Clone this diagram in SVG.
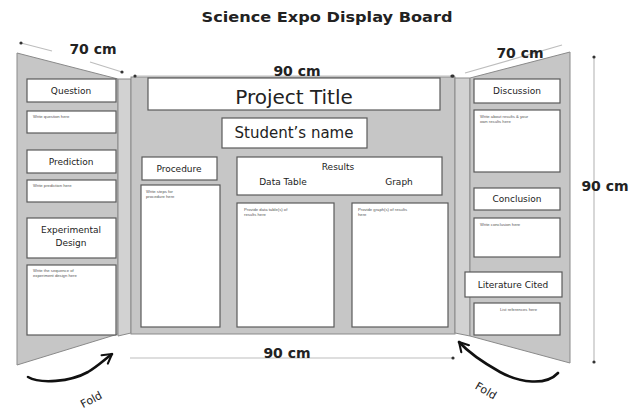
<svg xmlns="http://www.w3.org/2000/svg" width="643" height="412" viewBox="0 0 643 412">
<defs>
<style>
.panel{fill:#c6c6c6;stroke:#8a8a8a;stroke-width:1}
.fold{fill:#d2d2d2;stroke:#8a8a8a;stroke-width:1}
.box{fill:#ffffff;stroke:#5a5a5a;stroke-width:1.2}
.lbl{font-family:"DejaVu Sans","Liberation Sans",sans-serif;font-size:9px;fill:#222;text-anchor:middle}
.small{font-family:"Liberation Sans",Arial,sans-serif;font-size:4.2px;fill:#555}
.dim{font-family:"DejaVu Sans","Liberation Sans",sans-serif;font-weight:bold;font-size:14px;fill:#222;text-anchor:middle}
.dl{stroke:#bdbdbd;stroke-width:1.2;fill:none}
.dot{fill:#333}
.arr{stroke:#111;stroke-width:2.6;fill:none;stroke-linecap:round;stroke-linejoin:round}
.foldt{font-family:"DejaVu Sans","Liberation Sans",sans-serif;font-size:11px;fill:#222;text-anchor:middle}
</style>
<marker id="head" viewBox="0 0 10 10" refX="8" refY="5" markerWidth="5" markerHeight="5" orient="auto" markerUnits="strokeWidth">
<path d="M1,1 L8,5 L1,9" fill="none" stroke="#111" stroke-width="1.6" stroke-linecap="round" stroke-linejoin="round"/>
</marker>
</defs>
<rect width="643" height="412" fill="#ffffff"/>
<text x="327" y="22" font-family="DejaVu Sans,Liberation Sans,sans-serif" font-weight="bold" font-size="14.5" fill="#222" text-anchor="middle" textLength="251" lengthAdjust="spacingAndGlyphs">Science Expo Display Board</text>

<g id="left-panel">
<polygon class="panel" points="17,53 118,79 118,334 17,365"/>
<polygon class="fold" points="118,79 131,79 131,333 118,336"/>
</g>
<g id="center-panel">
<rect class="panel" x="131" y="77" width="324" height="257"/>
</g>
<g id="right-panel">
<polygon class="fold" points="455,78 470,78 470,336 455,333"/>
<polygon class="panel" points="470,78 570,52 570,363 470,336"/>
</g>

<g id="question"><rect class="box" x="27" y="79" width="89" height="23"/><text class="lbl" x="71" y="94">Question</text></g>
<g id="question-text"><rect class="box" x="27" y="111" width="89" height="22"/><text class="small" x="33" y="118">Write question here</text></g>
<g id="prediction"><rect class="box" x="27" y="150" width="89" height="23"/><text class="lbl" x="71" y="165">Prediction</text></g>
<g id="prediction-text"><rect class="box" x="27" y="180" width="89" height="22"/><text class="small" x="33" y="187">Write prediction here</text></g>
<g id="experimental-design"><rect class="box" x="27" y="218" width="89" height="40"/><text class="lbl" x="71" y="233">Experimental</text><text class="lbl" x="71" y="246">Design</text></g>
<g id="experimental-design-text"><rect class="box" x="27" y="265" width="89" height="70"/><text class="small" x="33" y="272">Write the sequence of</text><text class="small" x="33" y="277">experiment design here</text></g>

<g id="project-title"><rect class="box" x="148" y="78" width="292" height="32"/><text x="294" y="104" font-family="DejaVu Sans,Liberation Sans,sans-serif" font-size="20" fill="#222" text-anchor="middle">Project Title</text></g>
<g id="students-name"><rect class="box" x="222" y="118" width="145" height="30"/><text x="294" y="138" font-family="DejaVu Sans,Liberation Sans,sans-serif" font-size="15" fill="#222" text-anchor="middle">Student’s name</text></g>
<g id="procedure"><rect class="box" x="142" y="157" width="75" height="23"/><text class="lbl" x="179" y="172">Procedure</text></g>
<g id="procedure-text"><rect class="box" x="141" y="185" width="79" height="142"/><text class="small" x="146" y="193">Write steps for</text><text class="small" x="146" y="198">procedure here</text></g>
<g id="results"><rect class="box" x="237" y="157" width="205" height="38"/><text class="lbl" x="338" y="170">Results</text><text class="lbl" x="283" y="185">Data Table</text><text class="lbl" x="399" y="185">Graph</text></g>
<g id="data-table"><rect class="box" x="237" y="203" width="97" height="124"/><text class="small" x="244" y="211">Provide data table(s) of</text><text class="small" x="244" y="216">results here</text></g>
<g id="graph"><rect class="box" x="352" y="203" width="96" height="124"/><text class="small" x="358" y="211">Provide graph(s) of results</text><text class="small" x="358" y="216">here</text></g>

<g id="discussion"><rect class="box" x="474" y="79" width="86" height="24"/><text class="lbl" x="517" y="94">Discussion</text></g>
<g id="discussion-text"><rect class="box" x="474" y="110" width="86" height="62"/><text class="small" x="480" y="118">Write about results &amp; your</text><text class="small" x="480" y="123">own results here</text></g>
<g id="conclusion"><rect class="box" x="474" y="188" width="86" height="22"/><text class="lbl" x="517" y="202">Conclusion</text></g>
<g id="conclusion-text"><rect class="box" x="474" y="218" width="86" height="39"/><text class="small" x="480" y="226">Write conclusion here</text></g>
<g id="literature-cited"><rect class="box" x="465" y="272" width="97" height="25"/><text class="lbl" x="513" y="288">Literature Cited</text></g>
<g id="literature-text"><rect class="box" x="474" y="303" width="86" height="32"/><text class="small" x="500" y="311">List references here</text></g>

<g id="connectors">
<line class="dl" x1="21" y1="43" x2="52" y2="51"/>
<line class="dl" x1="90" y1="62" x2="122" y2="72"/>
<circle class="dot" cx="21" cy="43" r="1.6"/><circle class="dot" cx="122" cy="72" r="1.6"/>
<text class="dim" x="93" y="54">70 cm</text>
<line class="dl" x1="135" y1="76" x2="452" y2="76"/>
<circle class="dot" cx="135" cy="76" r="1.6"/><circle class="dot" cx="452" cy="76" r="1.6"/>
<text class="dim" x="297" y="76">90 cm</text>
<line class="dl" x1="465" y1="73" x2="562" y2="45"/>
<circle class="dot" cx="453" cy="76" r="1.6"/>
<text class="dim" x="520" y="58">70 cm</text>
<line class="dl" x1="594" y1="57" x2="594" y2="362"/>
<circle class="dot" cx="594" cy="57" r="1.6"/><circle class="dot" cx="594" cy="362" r="1.6"/>
<text class="dim" x="605" y="191">90 cm</text>
<line class="dl" x1="130" y1="358" x2="452" y2="358"/>
<circle class="dot" cx="453" cy="358" r="1.6"/>
<text class="dim" x="287" y="358">90 cm</text>
<path class="arr" d="M28,377 C40,384 70,382 88,372 C98,366 104,360 112,354" marker-end="url(#head)"/>
<path class="arr" d="M558,373 C546,386 520,383 500,372 C484,363 470,354 459,342" marker-end="url(#head)"/>
<text class="foldt" transform="translate(93,403) rotate(-28)">Fold</text>
<text class="foldt" transform="translate(484,394) rotate(30)">Fold</text>
</g>
</svg>
